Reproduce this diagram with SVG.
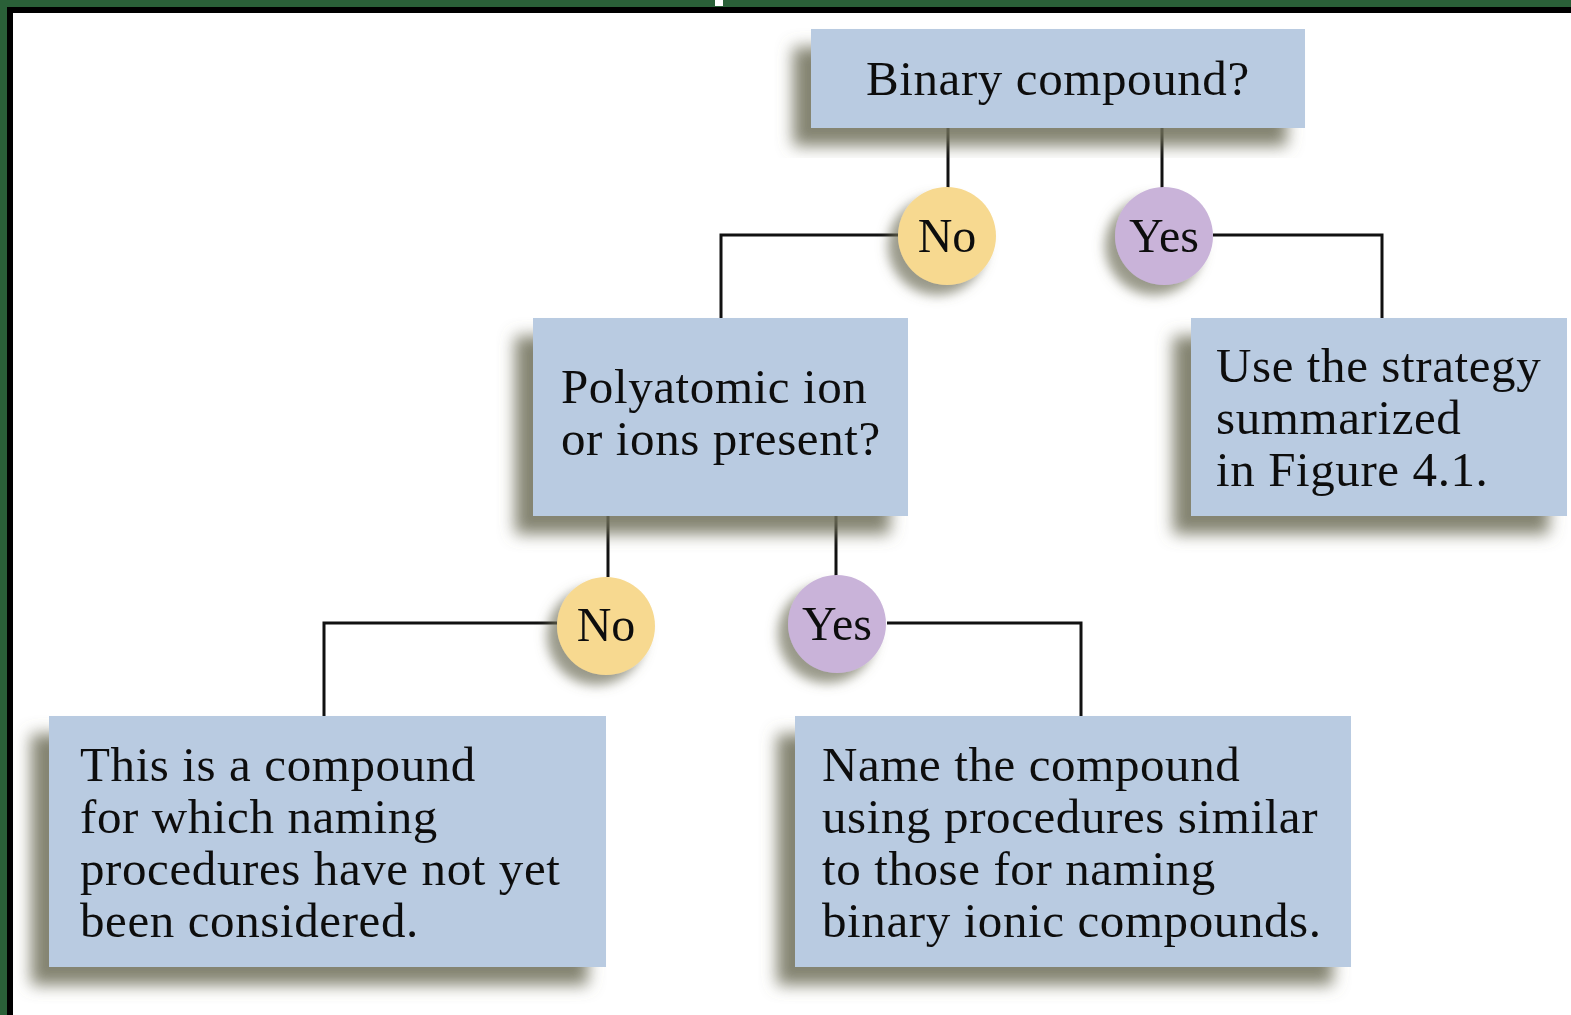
<svg xmlns="http://www.w3.org/2000/svg" width="1571" height="1015" viewBox="0 0 1571 1015">
<style>
.box{fill:#b9cbe1}
.no{fill:#f7d990}
.yes{fill:#c9b3d9}
.t{font-family:"Liberation Serif","Times New Roman",serif;font-size:49px;letter-spacing:0.6px;fill:#111}
.c{font-family:"Liberation Serif","Times New Roman",serif;font-size:48px;fill:#111;text-anchor:middle}
.ln{fill:none;stroke:#111;stroke-width:3}
</style>
<defs>
<filter id="sh" x="-20%" y="-20%" width="140%" height="150%">
<feGaussianBlur in="SourceAlpha" stdDeviation="8"/>
<feOffset dx="-18" dy="18" result="b"/>
<feFlood flood-color="#6e6e58" flood-opacity="0.85"/>
<feComposite in2="b" operator="in"/>
<feMerge><feMergeNode/><feMergeNode in="SourceGraphic"/></feMerge>
</filter>
<filter id="shc" x="-40%" y="-40%" width="180%" height="180%">
<feGaussianBlur in="SourceAlpha" stdDeviation="6"/>
<feOffset dx="-10" dy="10" result="b"/>
<feFlood flood-color="#6e6e58" flood-opacity="0.7"/>
<feComposite in2="b" operator="in"/>
<feMerge><feMergeNode/><feMergeNode in="SourceGraphic"/></feMerge>
</filter>
</defs>
<rect x="0" y="0" width="1571" height="1015" fill="#2a6038"/>
<rect x="7" y="7" width="1564" height="1008" fill="#000"/>
<rect x="13" y="13" width="1558" height="1002" fill="#fff"/>
<rect x="715" y="0" width="8" height="6" fill="#fff"/>

<g id="connectors">
<path class="ln" d="M948 128 V188"/>
<path class="ln" d="M1162 128 V188"/>
<path class="ln" d="M898 235 H721 V318"/>
<path class="ln" d="M1213 235 H1382 V318"/>
<path class="ln" d="M608 516 V577"/>
<path class="ln" d="M836 516 V576"/>
<path class="ln" d="M557 623 H324 V716"/>
<path class="ln" d="M887 623 H1081 V716"/>
</g>

<g id="q1" filter="url(#sh)">
<rect class="box" x="811" y="29" width="494" height="99"/>
<text class="t" x="866" y="95">Binary compound?</text>
</g>
<g id="no1" filter="url(#shc)">
<circle class="no" cx="947" cy="236" r="49"/>
<text class="c" x="947" y="252">No</text>
</g>
<g id="yes1" filter="url(#shc)">
<circle class="yes" cx="1164" cy="236" r="49"/>
<text class="c" x="1164" y="252">Yes</text>
</g>
<g id="q2" filter="url(#sh)">
<rect class="box" x="533" y="318" width="375" height="198"/>
<text class="t" x="561" y="403">Polyatomic ion</text>
<text class="t" x="561" y="455">or ions present?</text>
</g>
<g id="r1" filter="url(#sh)">
<rect class="box" x="1191" y="318" width="376" height="198"/>
<text class="t" x="1216" y="382">Use the strategy</text>
<text class="t" x="1216" y="434">summarized</text>
<text class="t" x="1216" y="486">in Figure 4.1.</text>
</g>
<g id="no2" filter="url(#shc)">
<circle class="no" cx="606" cy="626" r="49"/>
<text class="c" x="606" y="641">No</text>
</g>
<g id="yes2" filter="url(#shc)">
<circle class="yes" cx="837" cy="624" r="49"/>
<text class="c" x="837" y="640">Yes</text>
</g>
<g id="r2" filter="url(#sh)">
<rect class="box" x="49" y="716" width="557" height="251"/>
<text class="t" x="80" y="781">This is a compound</text>
<text class="t" x="80" y="833">for which naming</text>
<text class="t" x="80" y="885">procedures have not yet</text>
<text class="t" x="80" y="937">been considered.</text>
</g>
<g id="r3" filter="url(#sh)">
<rect class="box" x="795" y="716" width="556" height="251"/>
<text class="t" x="822" y="781">Name the compound</text>
<text class="t" x="822" y="833">using procedures similar</text>
<text class="t" x="822" y="885">to those for naming</text>
<text class="t" x="822" y="937">binary ionic compounds.</text>
</g>
</svg>
